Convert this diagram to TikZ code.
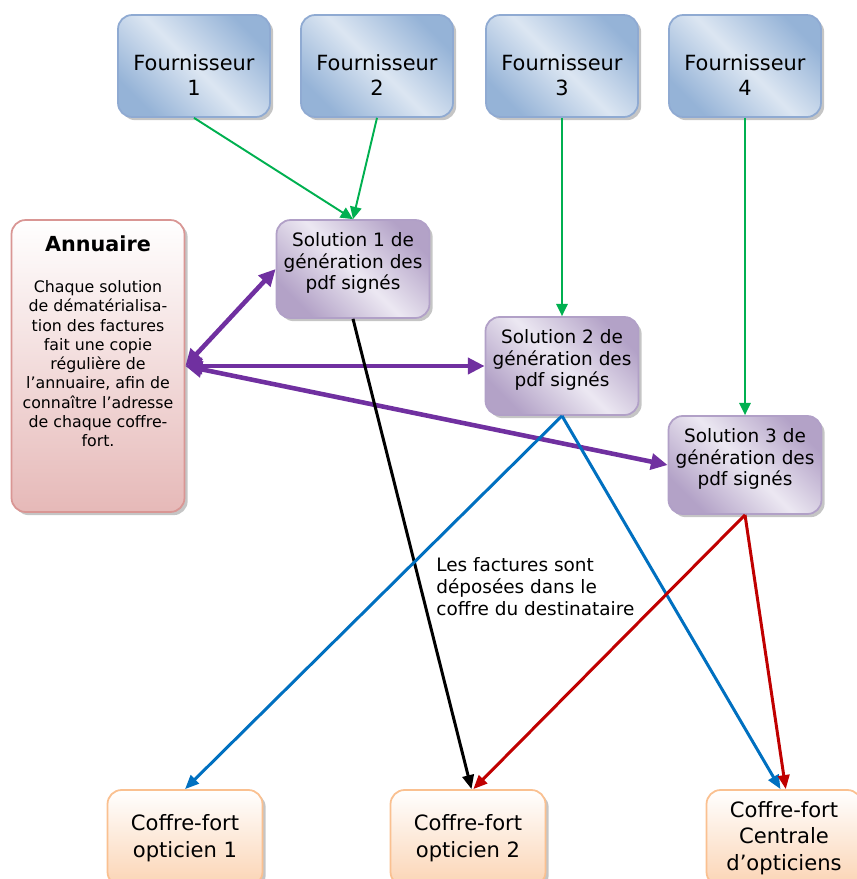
\documentclass[tikz,border=0pt]{standalone}
\usepackage{fontspec}
\setmainfont{DejaVu Sans}
\usetikzlibrary{arrows.meta, shadows}

\definecolor{fourndark}{HTML}{95B3D7}
\definecolor{fournlight}{HTML}{DCE6F2}
\definecolor{fournline}{HTML}{8FAAD2}
\definecolor{soldark}{HTML}{B3A2C7}
\definecolor{sollight}{HTML}{ECE8F2}
\definecolor{solline}{HTML}{B1A0C7}
\definecolor{annubottom}{HTML}{E6B9B8}
\definecolor{annuline}{HTML}{D99694}
\definecolor{coffrebottom}{HTML}{FBD4B4}
\definecolor{coffreline}{HTML}{FAC090}
\definecolor{arrowgreen}{HTML}{00B050}
\definecolor{arrowpurple}{HTML}{7030A0}
\definecolor{arrowblue}{HTML}{0070C0}
\definecolor{arrowred}{HTML}{C00000}

\tikzset{
  box/.style={rounded corners=8pt, line width=1pt, align=center, inner sep=2pt,
    drop shadow={shadow xshift=1.8pt, shadow yshift=-1.8pt, fill=black!45}},
  fournisseur/.style={box, draw=fournline, top color=fourndark, bottom color=fourndark,
    middle color=fournlight, shading angle=-45, minimum width=3.04cm, minimum height=2.04cm},
  solution/.style={box, draw=solline, top color=soldark, bottom color=soldark,
    middle color=sollight, shading angle=-45, minimum width=3.06cm, minimum height=1.96cm},
  annubox/.style={box, draw=annuline, top color=white, bottom color=annubottom,
    minimum width=3.46cm, minimum height=5.84cm},
  coffre/.style={box, draw=coffreline, top color=white, bottom color=coffrebottom,
    minimum width=3.1cm, minimum height=1.92cm, font=\fontsize{12}{15}\selectfont},
  boxtext/.style={align=center, inner sep=0pt},
  feed/.style={draw=arrowgreen, line width=1.1pt, -{Triangle[length=7pt,width=6.5pt]}},
  lookup/.style={draw=arrowpurple, line width=2.6pt,
    {Triangle[length=9.5pt,width=9pt]}-{Triangle[length=9.5pt,width=9pt]}},
  deposit/.style={line width=1.7pt, -{Triangle[length=8pt,width=6.5pt]}}
}

\begin{document}
\begin{tikzpicture}[x=0.02cm, y=-0.02cm]
    \useasboundingbox (0,0) rectangle (856,879);
    % fournisseurs
    \foreach \i/\x in {1/194, 2/377, 3/562, 4/745} {
        \node[fournisseur] (f\i) at (\x,66) {};
        \node[boxtext, font=\fontsize{11.9}{14.3}\selectfont] (f\i t) at (\x,75) {Fournisseur\\\i};
    }
    % solutions de generation
    \foreach \i/\x/\y in {1/353/269, 2/562/366, 3/745/465} {
        \node[solution] (s\i) at (\x,\y) {};
        \node[boxtext, font=\fontsize{10.5}{12.4}\selectfont] (s\i t) at (\x,\y-6)
            {Solution \i{} de\\génération des\\pdf signés};
    }
    % annuaire
    \node[annubox] (annu) at (98,366) {};
    \node[anchor=north, align=center, inner sep=0pt, font=\fontsize{9}{11}\selectfont]
        (annutxt) at ([yshift=-9pt]annu.north)
        {{\bfseries\fontsize{11.8}{14}\selectfont Annuaire}\\[12.5pt]
         Chaque solution\\de dématérialisa-\\tion des factures\\fait une copie\\régulière de\\l’annuaire, afin de\\connaître l’adresse\\de chaque coffre-\\fort.};
    % coffres-forts
    \node[coffre] (c1) at (185,838) {Coffre-fort\\opticien 1};
    \node[coffre] (c2) at (468,838) {Coffre-fort\\opticien 2};
    \node[coffre] (c3) at (784,838) {Coffre-fort\\Centrale\\d’opticiens};
    \node[anchor=north west, align=left, inner sep=0pt, font=\fontsize{10.5}{12.5}\selectfont]
        (depot) at (436,557) {Les factures sont\\déposées dans le\\coffre du destinataire};
    % fleches
    \draw[feed] (f1.south) -- (s1.north);
    \draw[feed] (f2.south) -- (s1.north);
    \draw[feed] (f3.south) -- (s2.north);
    \draw[feed] (f4.south) -- (s3.north);
    \draw[lookup] (annu.east) -- (s1.west);
    \draw[lookup] (annu.east) -- (s2.west);
    \draw[lookup] (annu.east) -- (s3.west);
    \draw[deposit, black] (s1.south) -- ([xshift=2pt]c2.north);
    \draw[deposit, arrowblue] (s2.south) -- (c1.north);
    \draw[deposit, arrowblue] (s2.south) -- ([xshift=-2pt]c3.north);
    \draw[deposit, arrowred] (s3.south) -- ([xshift=3pt]c2.north);
    \draw[deposit, arrowred] (s3.south) -- ([xshift=1pt]c3.north);
\end{tikzpicture}
\end{document}
